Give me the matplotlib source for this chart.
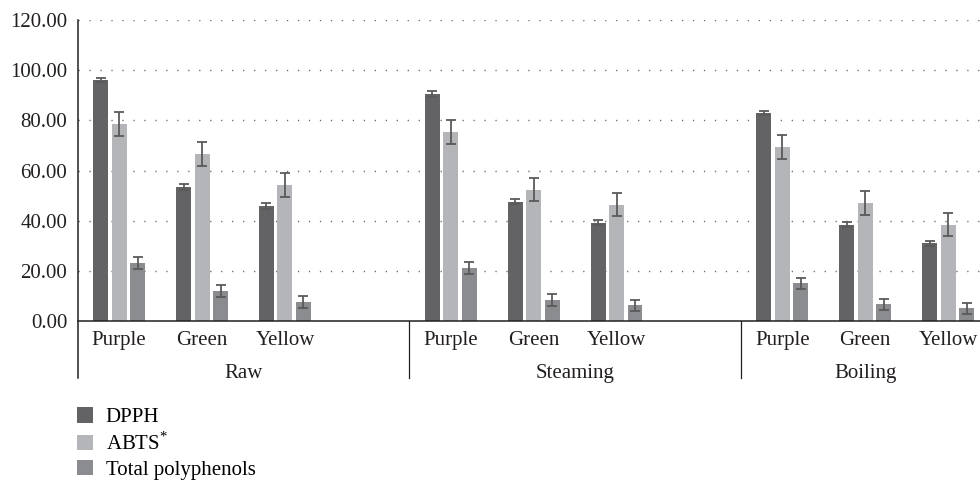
import matplotlib.pyplot as plt
import numpy as np

plt.rcParams["font.family"] = ["Liberation Serif", "DejaVu Serif"]
plt.rcParams["mathtext.fontset"] = "custom"
plt.rcParams["mathtext.rm"] = "Liberation Serif"

groups = ["Raw", "Steaming", "Boiling"]
cultivars = ["Purple", "Green", "Yellow"]

dpph = [96.1, 53.4, 45.8, 90.5, 47.6, 39.2, 83.0, 38.4, 30.9]
dpph_err = [0.9, 1.2, 1.1, 1.1, 1.0, 1.0, 0.9, 1.0, 0.9]
abts = [78.5, 66.6, 54.2, 75.4, 52.4, 46.4, 69.5, 47.2, 38.4]
abts_err = [4.7, 4.7, 4.7, 4.7, 4.7, 4.7, 4.8, 4.75, 4.7]
tp = [23.1, 12.0, 7.6, 21.3, 8.2, 6.2, 15.0, 6.6, 5.0]
tp_err = [2.3, 2.3, 2.4, 2.4, 2.4, 2.35, 2.3, 2.35, 2.3]

colors = ["#636365", "#b4b5b8", "#8b8c8f"]
err_color = "#5a5a5a"
fs = 15

fig = plt.figure(figsize=(9.8, 4.82), dpi=100)
ax = fig.add_axes([77.7 / 980, 161 / 482, 1 - 77.7 / 980, 301 / 482])

# each group takes 4 slots, the last one empty
centers = np.array([4 * g + c + 0.5 for g in range(len(groups)) for c in range(len(cultivars))])
width = 0.18
step = 0.223

series = [(dpph, dpph_err, "DPPH"), (abts, abts_err, "ABTS$^{*}$"), (tp, tp_err, "Total polyphenols")]
handles = []
for i, (vals, errs, label) in enumerate(series):
    xs = centers + (i - 1) * step
    b = ax.bar(xs, vals, width, color=colors[i], label=label, zorder=2)
    ax.errorbar(xs, vals, yerr=errs, fmt="none", ecolor=err_color, elinewidth=1.3,
                capsize=3.6, capthick=1.3, zorder=3)
    handles.append(b)

ax.set_xlim(0, 902.3 / 82.9)
ax.set_ylim(0, 120)
ax.set_yticks(np.arange(0, 121, 20))
ax.set_yticklabels([f"{v:.2f}" for v in np.arange(0, 121, 20)])
ax.tick_params(axis="y", length=0, pad=7.5, labelsize=fs, colors="#231f20")
ax.set_xticks([])

for v in range(20, 121, 20):
    ax.axhline(v, color="#666666", linewidth=1, linestyle=(0, (0.9, 7.0)), zorder=1)

for s in ["top", "right", "left"]:
    ax.spines[s].set_visible(False)
ax.spines["bottom"].set_linewidth(1.1)
ax.spines["bottom"].set_color("#231f20")

trans = ax.get_xaxis_transform()
drop = -57 / 301
ax.plot([0, 0], [drop, 1], transform=trans, color="#231f20", linewidth=1.1, clip_on=False)
for sep in [4, 8]:
    ax.plot([sep, sep], [drop, 0], transform=trans, color="#231f20", linewidth=0.9, clip_on=False)

for x, k in zip(centers, range(len(centers))):
    ax.annotate(cultivars[k % 3], xy=(x, 0), xycoords=trans, xytext=(0, -14),
                textcoords="offset points", ha="center", va="center", fontsize=fs, color="#231f20")

group_x = [2, 6, 9.5]
for gx, name in zip(group_x, groups):
    ax.annotate(name, xy=(gx, 0), xycoords=trans, xytext=(0, -38),
                textcoords="offset points", ha="center", va="center", fontsize=fs, color="#231f20")

fig.legend(handles=handles, loc="upper left", bbox_to_anchor=(77 / 980, 1 - 407 / 482),
           frameon=False, fontsize=fs, handlelength=0.78, handleheight=0.78,
           handletextpad=0.6, labelspacing=0.24, borderpad=0, borderaxespad=0)

fig.savefig("out.png", dpi=100)
